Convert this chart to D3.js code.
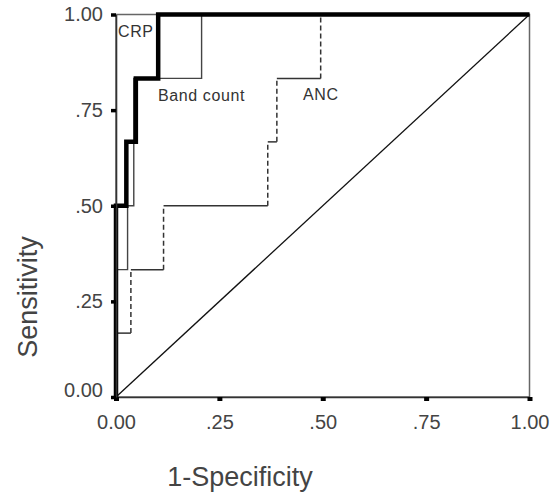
<!DOCTYPE html>
<html>
<head>
<meta charset="utf-8">
<script src="https://cdn.jsdelivr.net/npm/d3@7"></script>
<style>
  body { margin: 0; background: #fff; }
  text { font-family: "Liberation Sans", Arial, sans-serif; }
</style>
</head>
<body>
<script>
// ROC coordinates
let crpFpr  = [0, 0,   0.025, 0.025, 0.048, 0.048, 0.102, 0.102, 1];
let crpTpr  = [0, 0.5, 0.5,   0.667, 0.667, 0.833, 0.833, 1,     1];

let bandFpr = [0, 0,     0.028, 0.028, 0.043, 0.043, 0.207, 0.207, 1];
let bandTpr = [0, 0.333, 0.333, 0.5,   0.5,   0.833, 0.833, 1,     1];

let ancFpr  = [0, 0,     0.036, 0.036, 0.115, 0.115, 0.367, 0.367, 0.389, 0.389, 0.495, 0.495, 1];
let ancTpr  = [0, 0.167, 0.167, 0.333, 0.333, 0.5,   0.5,   0.667, 0.667, 0.833, 0.833, 1,     1];

let tickValues = [0, 0.25, 0.5, 0.75, 1];
let tickLabels = ["0.00", ".25", ".50", ".75", "1.00"];

let w = 552;
let h = 497;
let mLeft = 116, mRight = 529.5, mTop = 14.5, mBottom = 397;

const xScale = d3.scaleLinear().domain([0, 1]).range([mLeft, mRight]);
const yScale = d3.scaleLinear().domain([0, 1]).range([mBottom, mTop]);

const svg = d3.select("body")
  .append("svg")
  .attr("width", w)
  .attr("height", h);

function pts(xs, ys) {
  return xs.map(function(d, i) { return [d, ys[i]]; });
}

const line = d3.line()
  .x(function(d) { return xScale(d[0]); })
  .y(function(d) { return yScale(d[1]); });

// frame
svg.append("rect")
  .attr("x", xScale(0))
  .attr("y", yScale(1))
  .attr("width", xScale(1) - xScale(0))
  .attr("height", yScale(0) - yScale(1))
  .attr("fill", "none")
  .attr("stroke", "#666")
  .attr("stroke-width", 1.5);

// reference diagonal
svg.append("path")
  .attr("d", line([[0, 0], [1, 1]]))
  .attr("fill", "none")
  .attr("stroke", "#111")
  .attr("stroke-width", 1.3);

// ANC: horizontal runs solid, vertical rises dashed
let anc = pts(ancFpr, ancTpr);
for (let i = 0; i < anc.length - 1; i++) {
  let vertical = anc[i][0] === anc[i + 1][0];
  svg.append("path")
    .attr("d", line([anc[i], anc[i + 1]]))
    .attr("fill", "none")
    .attr("stroke", "#333")
    .attr("stroke-width", 1.5)
    .attr("stroke-dasharray", vertical ? "5,3" : null);
}

// Band count
svg.append("path")
  .attr("d", line(pts(bandFpr, bandTpr)))
  .attr("fill", "none")
  .attr("stroke", "#444")
  .attr("stroke-width", 1.4);

// CRP
svg.append("path")
  .attr("d", line(pts(crpFpr, crpTpr)))
  .attr("fill", "none")
  .attr("stroke", "#000")
  .attr("stroke-width", 4.5)
  .attr("stroke-linejoin", "miter");

// axes
const xAxis = svg.append("g")
  .attr("transform", "translate(0," + mBottom + ")")
  .call(d3.axisBottom(xScale)
    .tickValues(tickValues)
    .tickFormat(function(d, i) { return tickLabels[i]; })
    .tickSize(4)
    .tickSizeOuter(0)
    .tickPadding(14));

const yAxis = svg.append("g")
  .attr("transform", "translate(" + mLeft + ",0)")
  .call(d3.axisLeft(yScale)
    .tickValues(tickValues)
    .tickFormat(function(d, i) { return tickLabels[i]; })
    .tickSize(5)
    .tickSizeOuter(0)
    .tickPadding(8));

xAxis.select(".domain").attr("stroke", "#333").attr("stroke-width", 1.6);
yAxis.select(".domain").attr("stroke", "#333").attr("stroke-width", 1.6);
xAxis.selectAll(".tick line").attr("stroke", "#000").attr("stroke-width", 5);
yAxis.selectAll(".tick line").attr("stroke", "#000").attr("stroke-width", 3.5);

svg.selectAll(".tick text")
  .attr("fill", "#444")
  .style("font-size", "20px")
  .style("font-family", "'Liberation Sans', Arial, sans-serif");

// lift the bottom y label off the x labels
yAxis.selectAll(".tick text")
  .filter(function(d) { return d === 0; })
  .attr("y", -7);

// curve labels
svg.append("text").attr("class", "lbl").attr("x", 118).attr("y", 37).text("CRP");
svg.append("text").attr("class", "lbl").attr("x", 158).attr("y", 101).text("Band count");
svg.append("text").attr("class", "lbl").attr("x", 303).attr("y", 100).text("ANC");
svg.selectAll(".lbl")
  .attr("fill", "#333")
  .style("font-size", "16px")
  .style("letter-spacing", "0.6px");

// axis titles
svg.append("text")
  .attr("x", 240)
  .attr("y", 486)
  .attr("text-anchor", "middle")
  .attr("fill", "#444")
  .style("font-size", "27px")
  .text("1-Specificity");

svg.append("text")
  .attr("transform", "translate(37,297) rotate(-90)")
  .attr("text-anchor", "middle")
  .attr("fill", "#444")
  .style("font-size", "27px")
  .text("Sensitivity");
</script>
</body>
</html>
